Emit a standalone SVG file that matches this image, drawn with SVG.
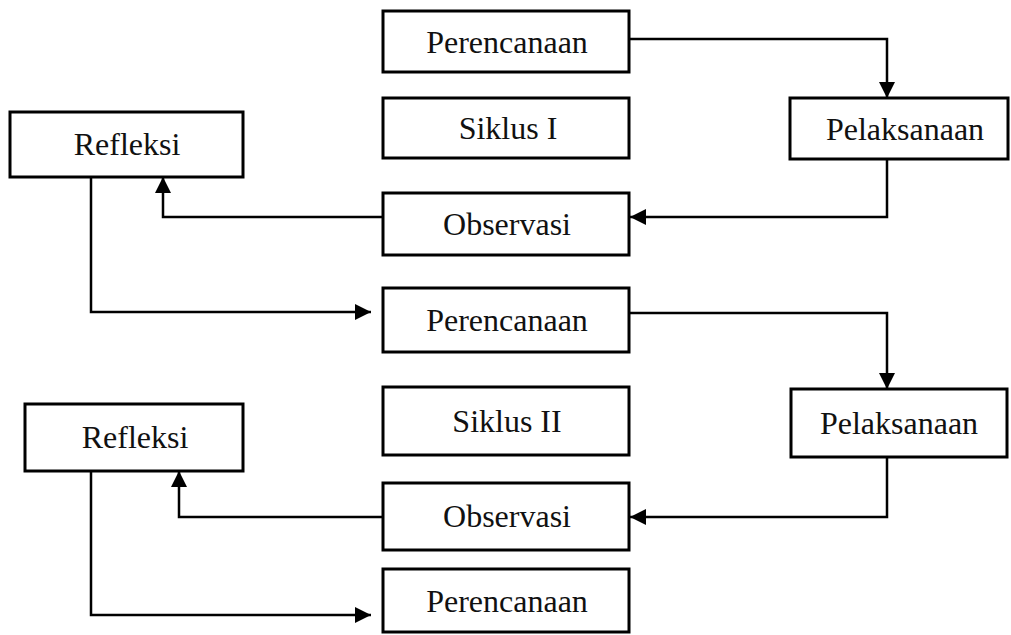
<svg xmlns="http://www.w3.org/2000/svg" width="1011" height="635" viewBox="0 0 1011 635">
<style>
.box{fill:#fff;stroke:#000;stroke-width:3}
.lbl{font-family:"Liberation Serif","Times New Roman",serif;font-size:32px;fill:#111;text-anchor:middle}
.con{fill:none;stroke:#000;stroke-width:2.5;marker-end:url(#ah)}
</style>
<defs>
<marker id="ah" markerUnits="userSpaceOnUse" markerWidth="18" markerHeight="18" viewBox="0 0 18 18" refX="16" refY="9" orient="auto">
<path d="M0,1 L16,9 L0,17 Z" fill="#000"/>
</marker>
</defs>
<rect width="1011" height="635" fill="#fff"/>
<g id="connectors">
<path class="con" d="M629,39 H887 V98"/>
<path class="con" d="M887,159 V217 H630"/>
<path class="con" d="M383,217 H163 V177"/>
<path class="con" d="M91,177 V312 H371"/>
<path class="con" d="M629,313 H887 V389"/>
<path class="con" d="M887,457 V517 H630"/>
<path class="con" d="M383,517 H179 V471"/>
<path class="con" d="M91,471 V615 H371"/>
</g>
<g id="perencanaan1"><rect class="box" x="383" y="11" width="246" height="61"/><text class="lbl" x="507" y="53">Perencanaan</text></g>
<g id="siklus1"><rect class="box" x="383" y="98" width="246" height="60"/><text class="lbl" x="508" y="139">Siklus I</text></g>
<g id="pelaksanaan1"><rect class="box" x="790" y="98" width="218" height="61"/><text class="lbl" x="905" y="140">Pelaksanaan</text></g>
<g id="observasi1"><rect class="box" x="383" y="193" width="246" height="62"/><text class="lbl" x="507" y="235">Observasi</text></g>
<g id="refleksi1"><rect class="box" x="10" y="112" width="233" height="65"/><text class="lbl" x="127" y="155">Refleksi</text></g>
<g id="perencanaan2"><rect class="box" x="383" y="288" width="246" height="64"/><text class="lbl" x="507" y="331">Perencanaan</text></g>
<g id="siklus2"><rect class="box" x="383" y="387" width="246" height="68"/><text class="lbl" x="507" y="432">Siklus II</text></g>
<g id="pelaksanaan2"><rect class="box" x="791" y="389" width="216" height="68"/><text class="lbl" x="899" y="434">Pelaksanaan</text></g>
<g id="refleksi2"><rect class="box" x="25" y="404" width="218" height="67"/><text class="lbl" x="135" y="448">Refleksi</text></g>
<g id="observasi2"><rect class="box" x="383" y="483" width="246" height="67"/><text class="lbl" x="507" y="527">Observasi</text></g>
<g id="perencanaan3"><rect class="box" x="383" y="569" width="246" height="63"/><text class="lbl" x="507" y="612">Perencanaan</text></g>
</svg>
